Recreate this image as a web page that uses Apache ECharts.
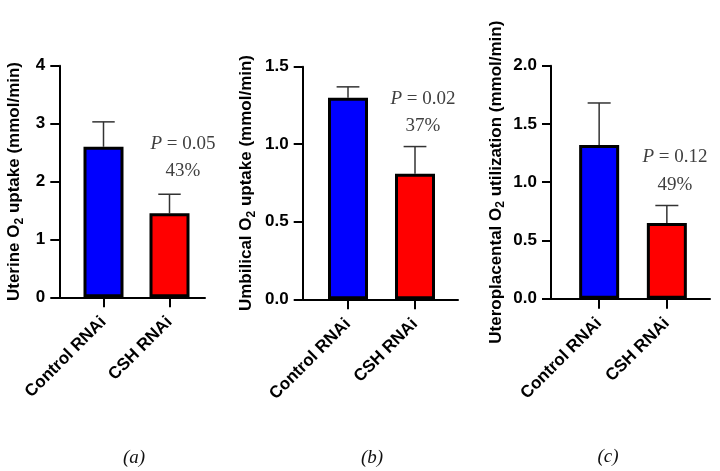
<!DOCTYPE html>
<html>
<head>
<meta charset="utf-8">
<script src="https://cdn.jsdelivr.net/npm/echarts@6/dist/echarts.min.js"></script>
<style>html,body{margin:0;padding:0;background:#fff}#c{width:720px;height:471px}</style>
</head>
<body>
<div id="c"></div>
<script>
// ---- data ----
const categories = ['Control RNAi', 'CSH RNAi'];
const uterineMean = [2.60, 1.45];
const uterineErr = [0.43, 0.33];
const umbilicalMean = [1.30, 0.81];
const umbilicalErr = [0.07, 0.175];
const uteroplacentalMean = [1.32, 0.65];
const uteroplacentalErr = [0.36, 0.15];
const pValues = ['0.05', '0.02', '0.12'];
const percentChange = ['43%', '37%', '49%'];
const panelLabels = ['(a)', '(b)', '(c)'];
const titleStart = ['Uterine O', 'Umbilical O', 'Uteroplacental O'];
const titleEnd = [' uptake (mmol/min)', ' uptake (mmol/min)', ' utilization (mmol/min)'];
const yMax = [4, 1.5, 2];
const yInterval = [1, 0.5, 0.5];
const yDecimals = [0, 1, 1];

const means = [uterineMean, umbilicalMean, uteroplacentalMean];
const errs = [uterineErr, umbilicalErr, uteroplacentalErr];

// ---- layout ----
const W = 720;
const layout = [
  {fl: 59.3, fr: 205, top: 65.7, bottom: 297.3, bl: 70.5, br: 202.5, gap: 34, ann: [183, 144, 171], lab: [134, 458]},
  {fl: 302.7, fr: 458, top: 66.7, bottom: 299.3, bl: 314.5, br: 448.5, gap: 45, ann: [423, 99, 126], lab: [372, 458]},
  {fl: 551, fr: 710, top: 65.7, bottom: 298.7, bl: 565.3, br: 700.7, gap: 44, ann: [675, 157, 185], lab: [608, 457]}
];
const H = 471;
const SANS = '"Liberation Sans", Arial, sans-serif';
const SERIF = '"Liberation Serif", "Times New Roman", serif';
const lineStyle = {color: '#000', width: 2};

const grid = [], xAxis = [], yAxis = [], series = [], graphic = [];
layout.forEach((L, p) => {
  const gFrame = grid.length;
  grid.push({left: L.fl, right: W - L.fr, top: L.top, bottom: H - L.bottom, containLabel: false, outerBoundsMode: 'none'});
  const gBar = grid.length;
  grid.push({left: L.bl, right: W - L.br, top: L.top, bottom: H - L.bottom, containLabel: false, outerBoundsMode: 'none'});

  // frame axes
  const xF = xAxis.length;
  xAxis.push({type: 'value', gridIndex: gFrame, min: 0, max: 1,
    axisLine: {show: true, onZero: false, lineStyle}, axisTick: {show: false}, axisLabel: {show: false}, splitLine: {show: false}});
  const yF = yAxis.length;
  yAxis.push({type: 'value', gridIndex: gFrame, min: 0, max: yMax[p], interval: yInterval[p],
    axisLine: {show: true, onZero: false, lineStyle},
    axisTick: {show: true, length: 9, lineStyle},
    axisLabel: {show: true, margin: 14, fontFamily: SANS, fontWeight: 'bold', fontSize: 17, color: '#000',
      formatter: v => v.toFixed(yDecimals[p])},
    splitLine: {show: false},
    name: '{t|' + titleStart[p] + '}{s|2}{t|' + titleEnd[p] + '}',
    nameLocation: 'middle', nameRotate: 90, nameGap: L.gap,
    nameTextStyle: {rich: {
      t: {fontFamily: SANS, fontWeight: 'bold', fontSize: 17, color: '#000', lineHeight: 22},
      s: {fontFamily: SANS, fontWeight: 'bold', fontSize: 12, color: '#000', lineHeight: 12, padding: [10, 0, 0, 0]}
    }}
  });
  series.push({type: 'line', xAxisIndex: xF, yAxisIndex: yF, data: [], silent: true});

  // bar axes
  const xB = xAxis.length;
  xAxis.push({type: 'category', gridIndex: gBar, data: categories,
    axisLine: {show: false},
    axisTick: {show: true, alignWithLabel: true, length: 10, lineStyle},
    axisLabel: {rotate: 45, margin: 22, fontFamily: SANS, fontWeight: 'bold', fontSize: 17, color: '#000', interval: 0},
    splitLine: {show: false}});
  const yB = yAxis.length;
  yAxis.push({type: 'value', gridIndex: gBar, min: 0, max: yMax[p], interval: yInterval[p], show: false});

  series.push({type: 'bar', xAxisIndex: xB, yAxisIndex: yB, barWidth: 40, z: 3,
    data: means[p].map((v, i) => ({value: v, itemStyle: {color: i === 0 ? '#0000FF' : '#FF0000'}})),
    itemStyle: {borderColor: '#000', borderWidth: 3}});

  series.push({type: 'custom', xAxisIndex: xB, yAxisIndex: yB, z: 2,
    data: means[p].map((v, i) => [i, v, errs[p][i]]),
    renderItem: (params, api) => {
      const x = api.value(0), m = api.value(1), e = api.value(2);
      const b = api.coord([x, m]);
      const t = api.coord([x, m + e]);
      const half = api.size([1, 0])[0] * 0.17;
      const st = {stroke: '#333', lineWidth: 1.5};
      return {type: 'group', children: [
        {type: 'line', shape: {x1: b[0], y1: b[1], x2: t[0], y2: t[1]}, style: st},
        {type: 'line', shape: {x1: t[0] - half, y1: t[1], x2: t[0] + half, y2: t[1]}, style: st}
      ]};
    }});

  graphic.push({type: 'text', x: L.ann[0], y: L.ann[1], style: {
    text: '{i|P} = ' + pValues[p], align: 'center', verticalAlign: 'middle',
    fontFamily: SERIF, fontSize: 19, fill: '#404040',
    rich: {i: {fontFamily: SERIF, fontStyle: 'italic', fontSize: 19, color: '#404040'}}}});
  graphic.push({type: 'text', x: L.ann[0], y: L.ann[2], style: {
    text: percentChange[p], align: 'center', verticalAlign: 'middle',
    fontFamily: SERIF, fontSize: 19, fill: '#404040'}});
  graphic.push({type: 'text', x: L.lab[0], y: L.lab[1], style: {
    text: panelLabels[p], align: 'center', verticalAlign: 'middle',
    fontFamily: SERIF, fontStyle: 'italic', fontSize: 19, fill: '#111'}});
});

const chart = echarts.init(document.getElementById('c'), null, {renderer: 'canvas'});
chart.setOption({animation: false, backgroundColor: '#fff', grid, xAxis, yAxis, series, graphic});
</script>
</body>
</html>
